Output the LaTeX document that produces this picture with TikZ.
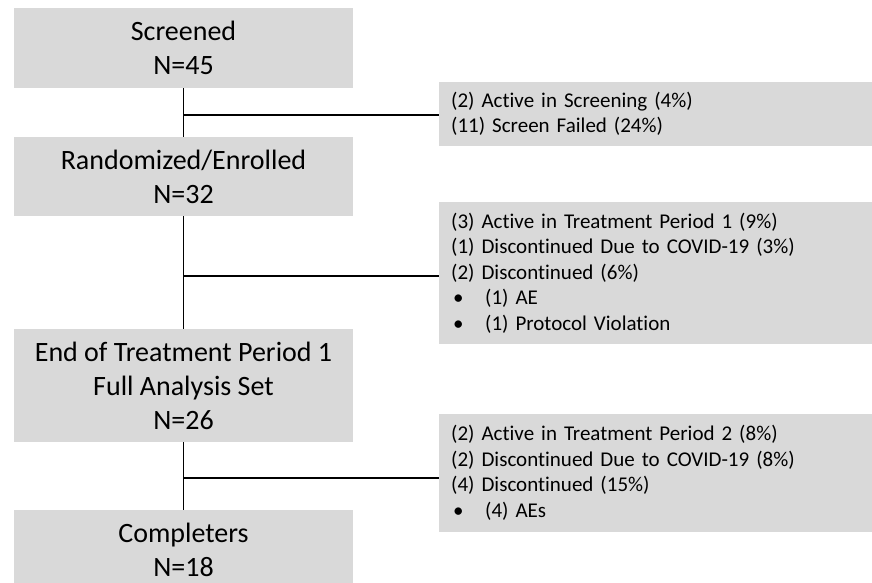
\documentclass[tikz,border=0pt]{standalone}
\usepackage{fontspec}
\setmainfont[Ligatures={NoCommon}]{Carlito}
\definecolor{boxgray}{HTML}{D9D9D9}
\tikzset{
  mainbox/.style={fill=boxgray, draw=none, minimum width=339pt, inner sep=0pt, align=center, font=\fontsize{28}{34}\selectfont},
  sidebox/.style={fill=boxgray, draw=none, anchor=west, text width=409pt, inner xsep=12pt, inner ysep=0pt, align=left, font=\fontsize{21}{25.5}\selectfont},
  link/.style={draw=black, line width=1.8pt}
}
\newcommand{\bul}[1]{\makebox[34pt][l]{\hspace{2pt}\textbullet}#1}
\begin{document}
\begin{tikzpicture}[x=1pt,y=-1pt]
\useasboundingbox (0,0) rectangle (872,582);
% main column
\node[mainbox, minimum height=80pt] (screen) at (183.5,48) {Screened\\N=45};
\node[mainbox, minimum height=79pt] (rand) at (183.5,176.5) {Randomized/Enrolled\\N=32};
\node[mainbox, minimum height=113pt] (eot) at (183.5,385.5) {End of Treatment Period 1\\Full Analysis Set\\N=26};
\node[mainbox, minimum height=80pt] (comp) at (183.5,550) {Completers\\N=18};
% side boxes
\node[sidebox, minimum height=64pt] (side1) at (439,114) {(2) Active in Screening (4\%)\\(11) Screen Failed (24\%)};
\node[sidebox, minimum height=142pt] (side2) at (439,273) {(3) Active in Treatment Period 1 (9\%)\\(1) Discontinued Due to COVID-19 (3\%)\\(2) Discontinued (6\%)\\\bul{(1) AE}\\\bul{(1) Protocol Violation}};
\node[sidebox, minimum height=118pt] (side3) at (439,473) {(2) Active in Treatment Period 2 (8\%)\\(2) Discontinued Due to COVID-19 (8\%)\\(4) Discontinued (15\%)\\\bul{(4) AEs}};
% junctions
\coordinate (j1) at (183.7,115);
\coordinate (j2) at (183.7,276);
\coordinate (j3) at (183.7,478);
% connectors
\draw[link] (screen.south) -- (rand.north);
\draw[link] (j1) -- (j1 -| side1.west);
\draw[link] (rand.south) -- (eot.north);
\draw[link] (j2) -- (j2 -| side2.west);
\draw[link] (eot.south) -- (comp.north);
\draw[link] (j3) -- (j3 -| side3.west);
\end{tikzpicture}
\end{document}
